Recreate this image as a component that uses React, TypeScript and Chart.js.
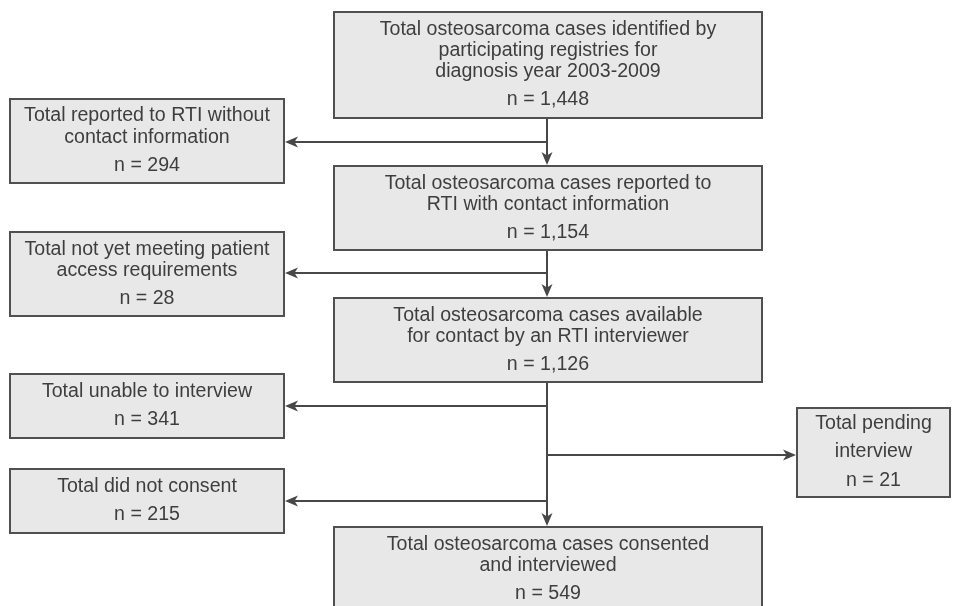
import React, { useEffect, useRef } from "react";
import { Chart, registerables } from "chart.js";

Chart.register(...registerables);

// ---- Data ----
const boxLabels: string[][] = [
  ["Total osteosarcoma cases identified by", "participating registries for", "diagnosis year 2003-2009"],
  ["Total reported to RTI without", "contact information"],
  ["Total osteosarcoma cases reported to", "RTI with contact information"],
  ["Total not yet meeting patient", "access requirements"],
  ["Total osteosarcoma cases available", "for contact by an RTI interviewer"],
  ["Total unable to interview"],
  ["Total pending", "interview"],
  ["Total did not consent"],
  ["Total osteosarcoma cases consented", "and interviewed"],
];
const boxCounts: number[] = [1448, 294, 1154, 28, 1126, 341, 21, 215, 549];

// ---- Layout (in chart units: x 0..960, y 0..606 top-down) ----
const boxX0 = [334, 10, 334, 10, 334, 10, 797, 10, 334];
const boxX1 = [762, 284, 762, 284, 762, 284, 950, 284, 762];
const boxY0 = [12, 99, 166, 232, 298, 374, 408, 469, 527];
const boxY1 = [118, 183, 250, 316, 382, 438, 497, 533, 611];
const boxLineHeight = [21, 22, 21, 21, 21, 21, 28, 21, 21];
const boxCountGap = [28, 28, 28, 28, 28, 28, 29, 28, 28];

// trunks: from box -> to box, with side branches (target box, y)
const trunks = [
  { from: 0, to: 2, branches: [{ to: 1, y: 142 }] },
  { from: 2, to: 4, branches: [{ to: 3, y: 273 }] },
  { from: 4, to: 8, branches: [{ to: 5, y: 406 }, { to: 6, y: 455 }, { to: 7, y: 501 }] },
];

const FILL = "#e8e8e8";
const STROKE = "#505050";
const LINE = "#474747";
const TEXT = "#3e3e3e";
const FONT = '19.6px "Liberation Sans", Arial, sans-serif';

function fmt(n: number) {
  return "n = " + n.toLocaleString("en-US");
}

const flowPlugin = {
  id: "flow",
  afterDraw(chart: any) {
    const ctx: CanvasRenderingContext2D = chart.ctx;
    const xs = chart.scales.x;
    const ys = chart.scales.y;
    const px = (v: number) => xs.getPixelForValue(v);
    const py = (v: number) => ys.getPixelForValue(v);

    ctx.save();
    // boxes
    for (let i = 0; i < boxLabels.length; i++) {
      const x0 = px(boxX0[i]);
      const x1 = px(boxX1[i]);
      const y0 = py(boxY0[i]);
      const y1 = py(boxY1[i]);
      ctx.fillStyle = FILL;
      ctx.fillRect(x0, y0, x1 - x0, y1 - y0);
      ctx.strokeStyle = STROKE;
      ctx.lineWidth = 2;
      ctx.strokeRect(x0, y0, x1 - x0, y1 - y0);

      const lines = boxLabels[i];
      const lh = boxLineHeight[i];
      const gap = boxCountGap[i];
      const block = (lines.length - 1) * lh + gap;
      const cx = (x0 + x1) / 2;
      const cy = (y0 + y1) / 2;
      let y = cy - block / 2;
      ctx.fillStyle = TEXT;
      ctx.font = FONT;
      ctx.textAlign = "center";
      ctx.textBaseline = "middle";
      for (let k = 0; k < lines.length; k++) {
        ctx.fillText(lines[k], cx, y);
        y += lh;
      }
      y += gap - lh;
      ctx.fillText(fmt(boxCounts[i]), cx, y);
    }

    const head = (tx: number, ty: number, dx: number, dy: number) => {
      const L = 13, W = 5.5, N = 3.5;
      const pxp = -dy, pyp = dx;
      const bx = tx - dx * L, by = ty - dy * L;
      ctx.beginPath();
      ctx.moveTo(tx, ty);
      ctx.lineTo(bx + pxp * W, by + pyp * W);
      ctx.lineTo(tx - dx * (L - N), ty - dy * (L - N));
      ctx.lineTo(bx - pxp * W, by - pyp * W);
      ctx.closePath();
      ctx.fillStyle = LINE;
      ctx.fill();
    };
    const arrow = (x1: number, y1: number, x2: number, y2: number) => {
      const len = Math.hypot(x2 - x1, y2 - y1);
      const dx = (x2 - x1) / len, dy = (y2 - y1) / len;
      ctx.beginPath();
      ctx.moveTo(x1, y1);
      ctx.lineTo(x2 - dx * 8, y2 - dy * 8);
      ctx.strokeStyle = LINE;
      ctx.lineWidth = 2;
      ctx.stroke();
      head(x2, y2, dx, dy);
    };

    for (const t of trunks) {
      const tx = px((boxX0[t.from] + boxX1[t.from]) / 2) - 1;
      const yStart = py(boxY1[t.from]) + 1;
      const yEnd = py(boxY0[t.to]) - 1;
      arrow(tx, yStart, tx, yEnd);
      for (const b of t.branches) {
        const by = py(b.y);
        const leftSide = boxX1[b.to] < boxX0[t.from];
        const targetX = leftSide ? px(boxX1[b.to]) + 1 : px(boxX0[b.to]) - 1;
        arrow(tx, by, targetX, by);
      }
    }
    ctx.restore();
  },
};

export default function App() {
  const ref = useRef<HTMLCanvasElement | null>(null);
  useEffect(() => {
    document.body.style.margin = "0";
    if (!ref.current) return;
    const chart = new Chart(ref.current, {
      type: "scatter",
      data: { datasets: [{ data: [], pointRadius: 0 }] },
      options: {
        animation: false,
        responsive: true,
        maintainAspectRatio: false,
        layout: { padding: 0 },
        scales: {
          x: { type: "linear", min: 0, max: 960, display: false },
          y: { type: "linear", min: 0, max: 606, reverse: true, display: false },
        },
        plugins: { legend: { display: false }, tooltip: { enabled: false }, title: { display: false } },
        events: [],
      },
      plugins: [flowPlugin],
    });
    return () => chart.destroy();
  }, []);
  return (
    <div style={{ position: "absolute", left: 0, top: 0, width: 960, height: 606, background: "#fff" }}>
      <canvas ref={ref} />
    </div>
  );
}
